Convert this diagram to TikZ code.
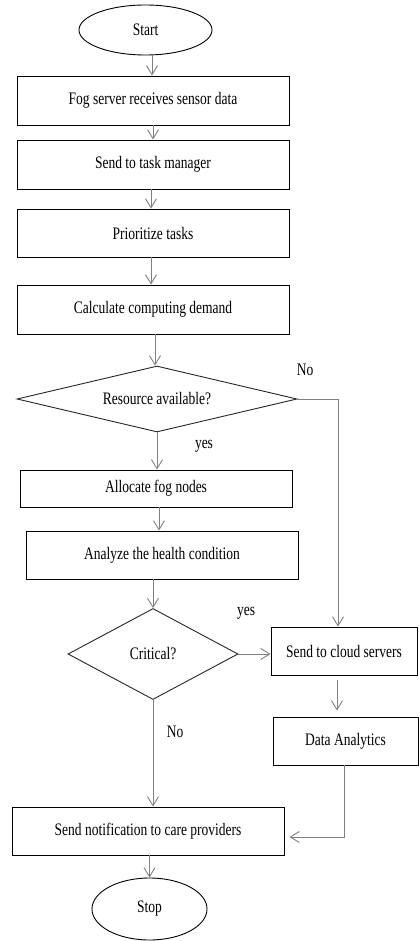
\documentclass[tikz,border=0pt]{standalone}
\usepackage{fontspec}
\setmainfont{Liberation Serif}
\usepackage{graphicx}
\usetikzlibrary{shapes.geometric,arrows.meta,calc}
% slightly tall lettering used throughout the chart
\newcommand{\tall}[1]{\scalebox{1}[1.3]{#1}}

\begin{document}
\begin{tikzpicture}[x=1pt,y=-1pt,
  every node/.style={font=\fontsize{13.5}{16}\selectfont},
  box/.style={draw=black, line width=0.9pt, rectangle, inner sep=0pt},
  term/.style={draw=black, line width=0.9pt, ellipse, inner sep=0pt},
  decision/.style={draw=black!85, line width=0.9pt, diamond, inner sep=0pt},
  flow/.style={draw=black!50, line width=0.9pt, -{Straight Barb[length=9pt,width=11pt]}},
  lbl/.style={inner sep=0pt}]

\useasboundingbox (0,0) rectangle (419,941);

% terminals, process steps and decisions
\node[term, minimum width=133pt, minimum height=50pt] (start) at (145.5,30) {\tall{Start}};
\node[box, minimum width=272pt, minimum height=49pt] (recv) at (153,100.5) {\tall{Fog server receives sensor data}};
\node[box, minimum width=272pt, minimum height=49pt] (task) at (153,164.5) {\tall{Send to task manager}};
\node[box, minimum width=272pt, minimum height=48pt] (prio) at (153,233) {\tall{Prioritize tasks}};
\node[box, minimum width=272pt, minimum height=49pt] (calc) at (153,309.5) {\tall{Calculate computing demand}};
\node[decision, shape aspect=4.24, minimum width=280pt, minimum height=66pt] (res) at (157,399) {\tall{Resource available?}};
\node[box, minimum width=272pt, minimum height=37pt] (alloc) at (156,488.5) {\tall{Allocate fog nodes}};
\node[box, minimum width=272pt, minimum height=48pt] (health) at (162,555) {\tall{Analyze the health condition}};
\node[decision, shape aspect=1.87, minimum width=170pt, minimum height=91pt] (crit) at (153,654) {\tall{Critical?}};
\node[box, minimum width=146pt, minimum height=48pt] (cloud) at (344,651) {\tall{Send to cloud servers}};
\node[box, minimum width=145pt, minimum height=48pt] (data) at (345.5,741) {\tall{Data Analytics}};
\node[box, minimum width=272pt, minimum height=48pt] (notif) at (148,831) {\tall{Send notification to care providers}};
\node[term, minimum width=115pt, minimum height=62pt] (stop) at (149.5,909) {\tall{Stop}};

% branch labels
\node[lbl] (noA) at (305,370) {\tall{No}};
\node[lbl] (yesA) at (204,446) {\tall{yes}};
\node[lbl] (yesB) at (246,613) {\tall{yes}};
\node[lbl] (noB) at (175,732) {\tall{No}};

% connectors
\draw[flow] ([xshift=6.5pt]start.south) -- ([xshift=6.5pt]start.south |- recv.north);
\draw[flow] (recv.south) -- (task.north);
\draw[flow] ([xshift=-2pt]task.south) -- ([xshift=-2pt]task.south |- prio.north);
\draw[flow] ([xshift=-2pt]prio.south) -- ([xshift=-2pt]prio.south |- calc.north);
\draw[flow] ([xshift=2pt]calc.south) -- ([xshift=2pt]calc.south |- res.north);
\draw[flow] (res.south) -- (res.south |- alloc.north);
\draw[flow] ([xshift=3pt]alloc.south) -- ([xshift=3pt]alloc.south |- health.north);
\draw[flow] (crit.north |- health.south) -- (crit.north);
\draw[flow] (res.east) -| ([xshift=-6pt]cloud.north);
\draw[flow] (crit.east) -- (crit.east -| cloud.west);
\draw[flow, shorten <=5pt, shorten >=6pt] ([xshift=-7pt]cloud.south) -- ([xshift=-7pt]cloud.south |- data.north);
\draw[flow, shorten >=5pt] ([xshift=-1.5pt]data.south) |- ([yshift=-6pt]notif.east);
\draw[flow] (crit.south) -- (crit.south |- notif.north);
\draw[flow] (stop.north |- notif.south) -- (stop.north);
\end{tikzpicture}
\end{document}
